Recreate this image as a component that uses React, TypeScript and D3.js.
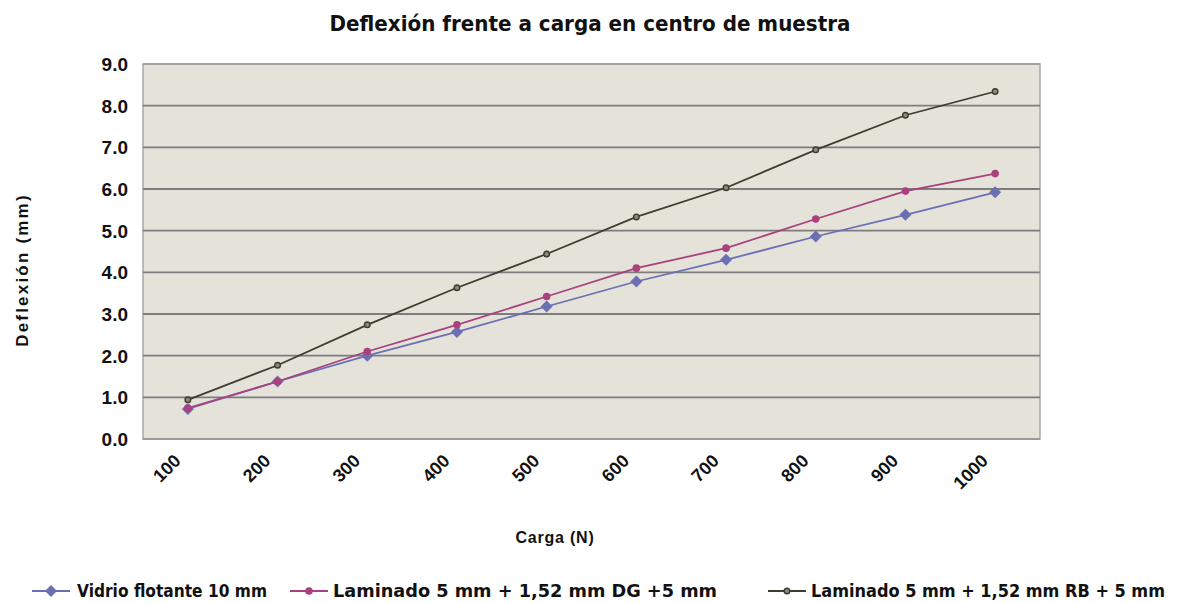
import React from 'react';
import * as d3 from 'd3';

// Chart values
const cargas = ['100', '200', '300', '400', '500', '600', '700', '800', '900', '1000'];
const vidrioFlotante = [0.72, 1.38, 2.0, 2.57, 3.18, 3.78, 4.3, 4.86, 5.38, 5.92];
const laminadoDG = [0.74, 1.38, 2.1, 2.74, 3.42, 4.1, 4.58, 5.28, 5.95, 6.37];
const laminadoRB = [0.94, 1.77, 2.74, 3.63, 4.44, 5.33, 6.03, 6.94, 7.77, 8.34];
const yTicks = [0, 1, 2, 3, 4, 5, 6, 7, 8, 9];

const series = [
  { name: 'Vidrio flotante 10 mm', values: vidrioFlotante, color: '#6a70b3', marker: 'diamond' },
  { name: 'Laminado 5 mm + 1,52 mm DG +5 mm', values: laminadoDG, color: '#a8417e', marker: 'dot' },
  { name: 'Laminado 5 mm + 1,52 mm RB + 5 mm', values: laminadoRB, color: '#3b3d30', marker: 'ring' },
];

const W = 1178;
const H = 603;
const plot = { left: 143, right: 1040, top: 64, bottom: 439 };
const narrow = "'Liberation Sans Narrow', 'DejaVu Sans Condensed', 'Arial Narrow', sans-serif";
const sans = "'Liberation Sans', Arial, sans-serif";

const Marker: React.FC<{ kind: string; x: number; y: number; color: string }> = ({ kind, x, y, color }) => {
  if (kind === 'diamond') {
    const s = 6;
    return <path d={`M${x},${y - s}L${x + s},${y}L${x},${y + s}L${x - s},${y}Z`} fill={color} />;
  }
  if (kind === 'dot') return <circle cx={x} cy={y} r={3.8} fill={color} />;
  return <circle cx={x} cy={y} r={2.8} fill="#8a8a78" stroke={color} strokeWidth={1.4} />;
};

export default function App() {
  const x = d3.scaleBand<string>().domain(cargas).range([plot.left, plot.right]);
  const y = d3.scaleLinear().domain([0, 9]).range([plot.bottom, plot.top]);
  const cx = (c: string) => (x(c) ?? 0) + x.bandwidth() / 2;
  const line = d3
    .line<number>()
    .x((_, i) => cx(cargas[i]))
    .y((d) => y(d));

  const legendItems = [
    { lx: 32, tx: 77, tw: 190 },
    { lx: 290, tx: 333, tw: 384 },
    { lx: 768, tx: 811, tw: 354 },
  ];

  return (
    <svg
      width={W}
      height={H}
      viewBox={`0 0 ${W} ${H}`}
      style={{ position: 'absolute', left: 0, top: 0, background: '#fff' }}
    >
      <text
        x={590}
        y={31}
        textAnchor="middle"
        fontFamily={narrow}
        fontWeight="bold"
        fontSize={22}
        fill="#111"
        textLength={521}
        lengthAdjust="spacingAndGlyphs"
      >
        Deflexión frente a carga en centro de muestra
      </text>

      {/* plot background and grid */}
      <rect
        x={plot.left}
        y={plot.top}
        width={plot.right - plot.left}
        height={plot.bottom - plot.top}
        fill="#e5e2da"
        stroke="#a8a8a8"
        strokeWidth={1.5}
      />
      {yTicks.map((t) => (
        <line
          key={t}
          x1={plot.left}
          x2={plot.right}
          y1={y(t)}
          y2={y(t)}
          stroke={t === 0 || t === 9 ? '#9a9a9a' : '#7d7d7d'}
          strokeWidth={t === 9 ? 1.5 : 1.8}
        />
      ))}

      {/* y axis labels */}
      {yTicks.map((t) => (
        <text
          key={t}
          x={128}
          y={y(t)}
          dy="0.36em"
          textAnchor="end"
          fontFamily={sans}
          fontWeight="bold"
          fontSize={19}
          fill="#111"
        >
          {t.toFixed(1)}
        </text>
      ))}
      <text
        transform={`translate(28,270) rotate(-90)`}
        textAnchor="middle"
        fontFamily={sans}
        fontWeight="bold"
        fontSize={17}
        fill="#111"
        letterSpacing={2.2}
      >
        Deflexión (mm)
      </text>

      {/* x axis labels */}
      {cargas.map((c) => (
        <text
          key={c}
          transform={`translate(${cx(c) - 6},${462}) rotate(-45)`}
          textAnchor="end"
          fontFamily={sans}
          fontWeight="bold"
          fontSize={18}
          fill="#111"
        >
          {c}
        </text>
      ))}
      <text
        x={555}
        y={543}
        textAnchor="middle"
        fontFamily={sans}
        fontWeight="bold"
        fontSize={16}
        fill="#111"
        letterSpacing={0.8}
      >
        Carga (N)
      </text>

      {/* series */}
      {series.map((s) => (
        <g key={s.name}>
          <path d={line(s.values) ?? ''} fill="none" stroke={s.color} strokeWidth={1.8} />
          {s.values.map((v, i) => (
            <Marker key={i} kind={s.marker} x={cx(cargas[i])} y={y(v)} color={s.color} />
          ))}
        </g>
      ))}

      {/* legend */}
      {series.map((s, i) => {
        const it = legendItems[i];
        return (
          <g key={s.name}>
            <line x1={it.lx} x2={it.lx + 38} y1={591} y2={591} stroke={s.color} strokeWidth={2} />
            <Marker kind={s.marker} x={it.lx + 19} y={591} color={s.color} />
            <text
              x={it.tx}
              y={597}
              fontFamily={narrow}
              fontWeight="bold"
              fontSize={18}
              fill="#111"
              textLength={it.tw}
              lengthAdjust="spacingAndGlyphs"
            >
              {s.name}
            </text>
          </g>
        );
      })}
    </svg>
  );
}
